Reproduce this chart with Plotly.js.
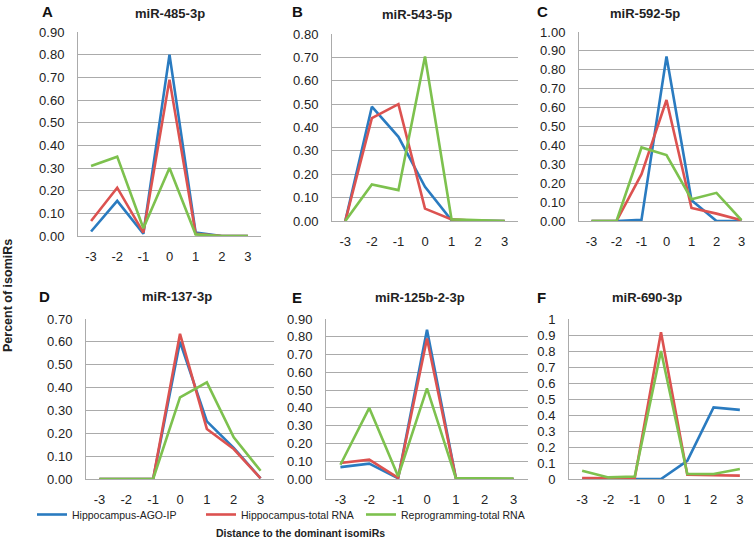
<!DOCTYPE html>
<html>
<head>
<meta charset="utf-8">
<script src="https://cdn.plot.ly/plotly-3.0.1.min.js"></script>
<style>html,body{margin:0;padding:0;background:#fff}#chart{width:754px;height:560px}</style>
</head>
<body>
<div id="chart"></div>
<script>
// ---- data ----
const categories = [-3, -2, -1, 0, 1, 2, 3];
const seriesNames = ['Hippocampus-AGO-IP', 'Hippocampus-total RNA', 'Reprogramming-total RNA'];
const panelLetters = ['A', 'B', 'C', 'D', 'E', 'F'];
const panelTitles = ['miR-485-3p', 'miR-543-5p', 'miR-592-5p', 'miR-137-3p', 'miR-125b-2-3p', 'miR-690-3p'];
const panelYMax = [0.9, 0.8, 1.0, 0.7, 0.9, 1];
const panelTickFormat = ['.2f', '.2f', '.2f', '.2f', '.2f', ''];

// A: miR-485-3p
const a_ago     = [0.02, 0.155, 0.01, 0.80, 0.015, 0.0, 0.0];
const a_total   = [0.066, 0.213, 0.015, 0.69, 0.01, 0.0, 0.0];
const a_reprog  = [0.309, 0.35, 0.034, 0.30, 0.007, 0.0, 0.0];
// B: miR-543-5p
const b_ago     = [0.0, 0.489, 0.36, 0.146, 0.003, 0.0, 0.0];
const b_total   = [0.0, 0.44, 0.50, 0.053, 0.007, 0.0, 0.0];
const b_reprog  = [0.0, 0.156, 0.132, 0.704, 0.007, 0.003, 0.0];
// C: miR-592-5p
const c_ago     = [0.0, 0.0, 0.007, 0.87, 0.11, 0.0, 0.0];
const c_total   = [0.0, 0.0, 0.248, 0.64, 0.069, 0.039, 0.004];
const c_reprog  = [0.0, 0.0, 0.389, 0.349, 0.115, 0.149, 0.004];
// D: miR-137-3p
const d_ago     = [0.0, 0.0, 0.0, 0.60, 0.252, 0.136, 0.003];
const d_total   = [0.0, 0.0, 0.0, 0.635, 0.219, 0.131, 0.003];
const d_reprog  = [0.0, 0.0, 0.0, 0.357, 0.423, 0.182, 0.036];
// E: miR-125b-2-3p
const e_ago     = [0.067, 0.086, 0.004, 0.839, 0.006, 0.0, 0.0];
const e_total   = [0.09, 0.109, 0.006, 0.79, 0.006, 0.0, 0.0];
const e_reprog  = [0.08, 0.40, 0.015, 0.51, 0.005, 0.002, 0.002];
// F: miR-690-3p
const f_ago     = [0.0, 0.0, 0.0, 0.0, 0.114, 0.447, 0.432];
const f_total   = [0.006, 0.004, 0.005, 0.917, 0.027, 0.023, 0.021];
const f_reprog  = [0.052, 0.010, 0.015, 0.80, 0.031, 0.031, 0.062];

const panelData = [
  [a_ago, a_total, a_reprog],
  [b_ago, b_total, b_reprog],
  [c_ago, c_total, c_reprog],
  [d_ago, d_total, d_reprog],
  [e_ago, e_total, e_reprog],
  [f_ago, f_total, f_reprog]
];

// ---- styling / layout ----
const W = 754, H = 560;
const colors = ['#2a7bc0', '#dc5250', '#7dc14e'];
// plot areas in pixels [x0, x1, yTop, yBottom]
const boxes = [
  [78, 261, 32, 236],
  [332, 518, 34, 221],
  [579, 754, 32, 221],
  [86, 274, 319, 479],
  [326, 528, 319, 479],
  [569, 753, 319, 479]
];
const letterPos = [[47, 11], [297, 11], [542, 11], [44, 296], [297, 297], [541, 297]];
const titlePos = [[170, 13], [417, 14], [645, 13], [177, 296], [420, 297], [647, 297]];
const legendTextX = [72, 241, 401];

const gridColor = '#ababab';
const sans = 'Liberation Sans, Arial, sans-serif';
const tickFont = {family: sans, size: 13, color: '#222'};

const traces = [];
const layout = {
  width: W, height: H,
  margin: {l: 0, r: 0, t: 0, b: 0},
  paper_bgcolor: '#fff', plot_bgcolor: '#fff',
  showlegend: true,
  annotations: [],
  shapes: []
};
seriesNames.forEach((nm, s) => {
  const key = 'legend' + (s === 0 ? '' : (s + 1));
  layout[key] = {
    orientation: 'h', x: (legendTextX[s] - 40) / W, xanchor: 'left',
    y: 1 - 500 / H, yanchor: 'top', bgcolor: 'rgba(0,0,0,0)',
    font: {family: sans, size: 10.5, color: '#222'}
  };
});

panelData.forEach((series, p) => {
  const n = p + 1;
  const sfx = n === 1 ? '' : String(n);
  const [x0, x1, yt, yb] = boxes[p];
  layout['xaxis' + sfx] = {
    domain: [x0 / W, x1 / W], anchor: 'y' + sfx,
    range: [-3.5, 3.5], tickvals: categories, ticktext: categories.map(String),
    showgrid: false, zeroline: false, showline: true, linecolor: gridColor, linewidth: 1,
    ticks: '', ticklabelstandoff: 8, tickfont: tickFont, fixedrange: true
  };
  layout['yaxis' + sfx] = {
    domain: [1 - yb / H, 1 - yt / H], anchor: 'x' + sfx,
    range: [0, panelYMax[p]], dtick: 0.1, tick0: 0, tickformat: panelTickFormat[p],
    showgrid: true, gridcolor: gridColor, gridwidth: 1, zeroline: false,
    showline: true, linecolor: gridColor, linewidth: 1,
    ticks: '', ticklabelstandoff: 10, tickfont: tickFont, fixedrange: true
  };
  series.forEach((vals, s) => {
    traces.push({
      type: 'scatter', mode: 'lines', x: categories, y: vals,
      xaxis: 'x' + sfx, yaxis: 'y' + sfx,
      name: seriesNames[s], legend: 'legend' + (s === 0 ? '' : (s + 1)),
      showlegend: p === 0,
      line: {color: colors[s], width: 2.6}, hoverinfo: 'skip'
    });
  });
  layout.annotations.push({
    xref: 'paper', yref: 'paper', x: letterPos[p][0] / W, y: 1 - letterPos[p][1] / H,
    text: panelLetters[p], showarrow: false, xanchor: 'center', yanchor: 'middle',
    font: {family: sans, size: 15, weight: 'bold', color: '#111'}
  });
  layout.annotations.push({
    xref: 'paper', yref: 'paper', x: titlePos[p][0] / W, y: 1 - titlePos[p][1] / H,
    text: panelTitles[p], showarrow: false, xanchor: 'center', yanchor: 'middle',
    font: {family: sans, size: 13, weight: 'bold', color: '#222'}
  });
});

layout.annotations.push({
  xref: 'paper', yref: 'paper', x: 8 / W, y: 1 - 296 / H, textangle: -90,
  text: 'Percent of isomiRs', showarrow: false, xanchor: 'center', yanchor: 'middle',
  font: {family: sans, size: 12.5, weight: 'bold', color: '#222'}
});
layout.annotations.push({
  xref: 'paper', yref: 'paper', x: 300 / W, y: 1 - 533 / H,
  text: 'Distance to the dominant isomiRs', showarrow: false, xanchor: 'center', yanchor: 'middle',
  font: {family: sans, size: 10.5, weight: 'bold', color: '#222'}
});

Plotly.newPlot('chart', traces, layout, {displayModeBar: false, staticPlot: true});
</script>
</body>
</html>
